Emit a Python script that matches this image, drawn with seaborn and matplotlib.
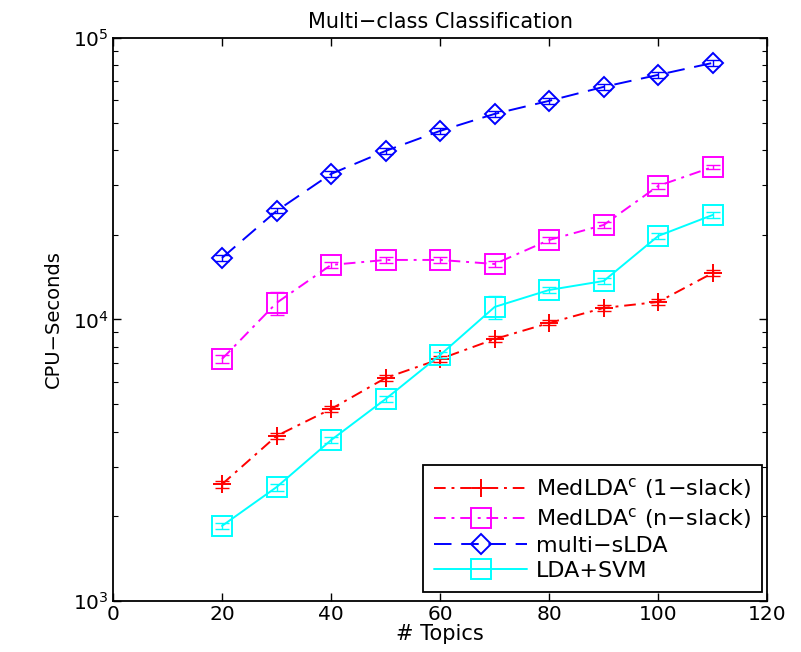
import matplotlib
matplotlib.use("Agg")
import matplotlib.pyplot as plt
import seaborn as sns
import pandas as pd
import numpy as np
from matplotlib.ticker import LogLocator, FixedLocator

topics = [20, 30, 40, 50, 60, 70, 80, 90, 100, 110]
medlda_1slack = [2600, 3860, 4810, 6200, 7240, 8520, 9720, 10990, 11540, 14630]
medlda_nslack = [7240, 11450, 15620, 16270, 16270, 15740, 19160, 21660, 29810, 34800]
multi_slda = [16540, 24290, 32880, 39670, 46730, 53700, 59750, 66980, 73880, 81480]
lda_svm = [1850, 2540, 3730, 5220, 7480, 11080, 12730, 13700, 19800, 23510]

err_1slack = [80, 100, 120, 150, 150, 200, 200, 250, 250, 350]
err_nslack = [250, 1100, 350, 450, 400, 400, 500, 500, 700, 700]
err_slda = [400, 500, 700, 900, 1000, 1200, 1300, 1500, 1700, 1800]
err_svm = [50, 70, 90, 130, 200, 1000, 300, 300, 500, 500]

labels = ["MedLDA$^{\\mathrm{c}}$ (1\u2212slack)", "MedLDA$^{\\mathrm{c}}$ (n\u2212slack)",
          "multi\u2212sLDA", "LDA+SVM"]

sns.set_theme(style="ticks")
plt.rcParams['font.family'] = ['DejaVu Sans']
plt.rcParams['mathtext.fontset'] = 'dejavusans'
plt.rcParams['text.color'] = 'black'
plt.rcParams['axes.labelcolor'] = 'black'
plt.rcParams['xtick.color'] = 'black'
plt.rcParams['ytick.color'] = 'black'

fig = plt.figure(figsize=(8.01, 6.52), dpi=100)
ax = fig.add_axes([0.141, 0.078, 0.817, 0.864])

series = [
    (medlda_1slack, err_1slack, "#ff0000", (0, (6, 3, 1.5, 3)), "+", 13, labels[0]),
    (medlda_nslack, err_nslack, "#ff00ff", (0, (6, 3, 1.5, 3)), "s", 14, labels[1]),
    (multi_slda, err_slda, "#0000ff", (0, (9, 5)), "D", 10, labels[2]),
    (lda_svm, err_svm, "#00ffff", "-", "s", 14, labels[3]),
]

for vals, errs, color, ls, mk, ms, lab in series:
    df = pd.DataFrame({"topics": topics, "cpu": vals})
    sns.lineplot(data=df, x="topics", y="cpu", ax=ax, color=color, linestyle=ls,
                 marker=mk, markersize=ms, markerfacecolor="none", markeredgecolor=color,
                 markeredgewidth=1.4, linewidth=1.4, label=lab, errorbar=None)
    ax.errorbar(topics, vals, yerr=errs, fmt="none", ecolor=color, elinewidth=1.0,
                capsize=5, capthick=1.0)

ax.set_yscale("log")
ax.set_xlim(0, 120)
ax.set_ylim(1e3, 1e5)
ax.set_xticks([0, 20, 40, 60, 80, 100, 120])
ax.yaxis.set_major_locator(FixedLocator([1e3, 1e4, 1e5]))
ax.yaxis.set_minor_locator(LogLocator(base=10, subs=np.arange(2, 10)))
ax.tick_params(axis="both", which="both", direction="in", top=True, right=True,
               labelsize=14.5, colors="black", pad=3)
ax.tick_params(which="major", length=6, width=1)
ax.tick_params(which="minor", length=3.5, width=0.8)
for sp in ax.spines.values():
    sp.set_linewidth(1.3)
    sp.set_color("black")

ax.set_xlabel("# Topics", fontsize=15, labelpad=0, color="black")
ax.set_ylabel("CPU\u2212Seconds", fontsize=14, labelpad=7, color="black")
ax.set_title("Multi\u2212class Classification", fontsize=15, pad=7, color="black")

leg = ax.legend(loc="lower right", fontsize=16, frameon=True, fancybox=False,
                edgecolor="black", framealpha=1, handlelength=4.2, handletextpad=0.4,
                borderpad=0.5, labelspacing=0.22, borderaxespad=0,
                bbox_to_anchor=(0.992, 0.016))
leg.get_frame().set_linewidth(1.3)
for t in leg.get_texts():
    t.set_color("black")

fig.savefig("out.png", dpi=100)
